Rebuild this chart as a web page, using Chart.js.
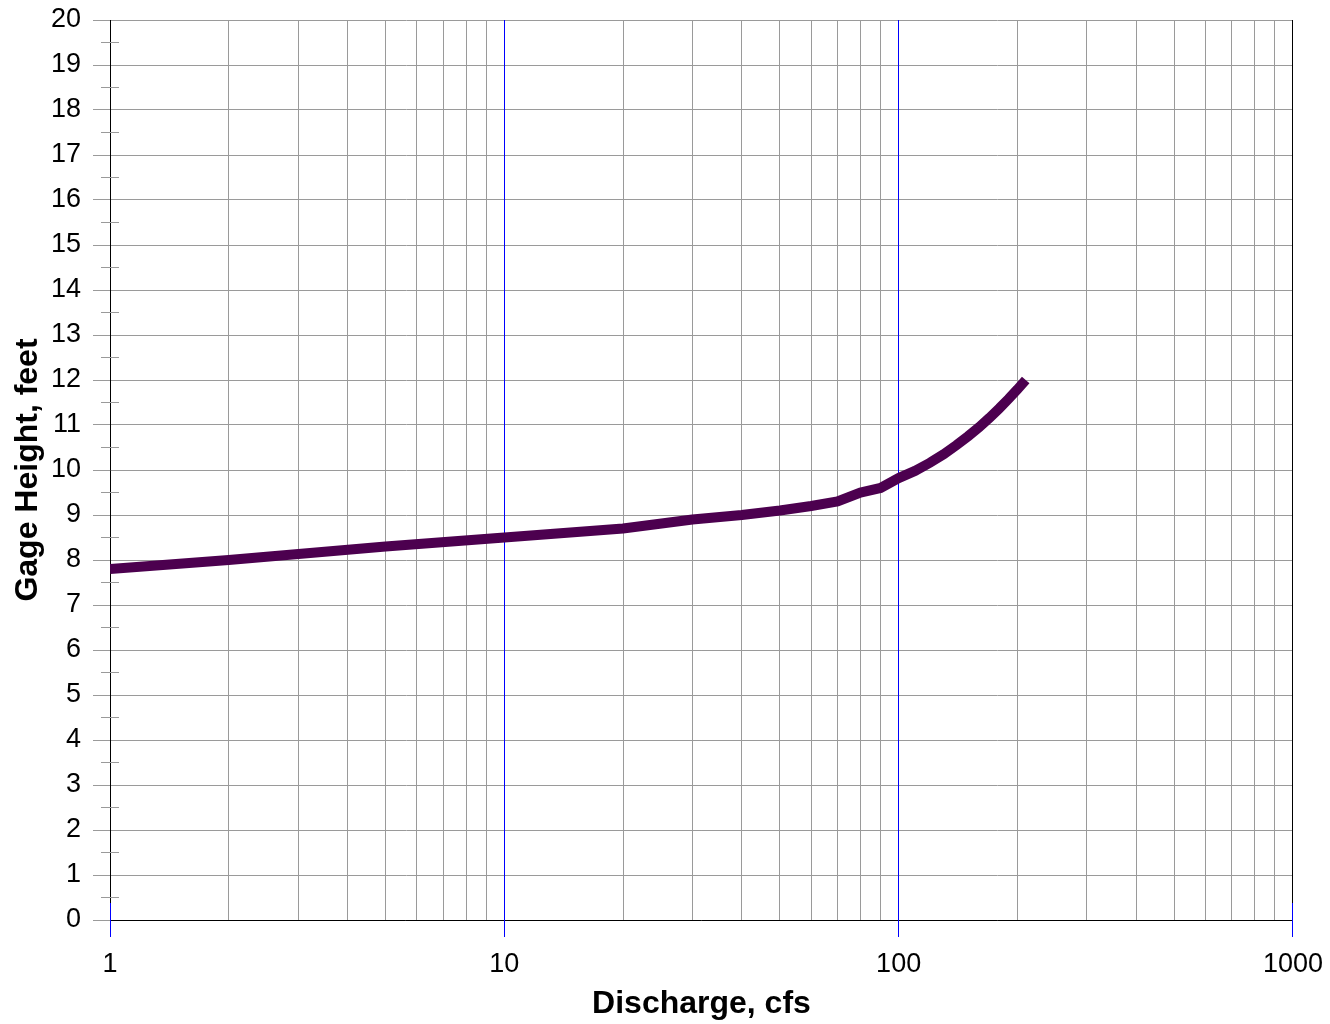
<!DOCTYPE html>
<html>
<head>
<meta charset="utf-8">
<script src="https://cdn.jsdelivr.net/npm/chart.js@4/dist/chart.umd.min.js"></script>
<style>
    html, body { margin: 0; padding: 0; background: #fff; }
    #wrap { width: 1330px; height: 1024px; }
</style>
</head>
<body>
<div id="wrap"><canvas id="ratingChart"></canvas></div>
<script>
// Rating curve - discharge (cfs) vs gage height (feet)
const discharge = [1, 2, 5, 10, 20, 30, 40, 50, 60, 70, 80, 90, 100, 110, 120, 130, 140, 150, 160, 170, 180, 190, 200, 210];
const gageHeight = [7.8, 8.0, 8.3, 8.5, 8.7, 8.9, 9.0, 9.1, 9.2, 9.3, 9.5, 9.6, 9.82, 9.98, 10.16, 10.35, 10.55, 10.75, 10.95, 11.16, 11.37, 11.58, 11.79, 12.0];

const xTickValues = [1, 2, 3, 4, 5, 6, 7, 8, 9,
    10, 20, 30, 40, 50, 60, 70, 80, 90,
    100, 200, 300, 400, 500, 600, 700, 800, 900, 1000];
const xTickLabels = ['1', '10', '100', '1000'];
const decades = [1, 10, 100, 1000];

const gridGray = '#9a9a9a';
const decadeBlue = '#0000ff';

// same pixel snapping Chart.js uses for 1px grid lines
function snap(px) {
    return Math.round(px - 0.5) + 0.5;
}

// decade lines (blue, black at the right edge) and their stubs across the x axis
const decadeLines = {
    id: 'decadeLines',
    beforeDatasetsDraw(chart) {
        const ctx = chart.ctx;
        const x = chart.scales.x;
        const y = chart.scales.y;
        ctx.save();
        ctx.lineWidth = 1;
        decades.forEach(d => {
            const px = snap(x.getPixelForValue(d));
            if (d !== 1) {
                ctx.strokeStyle = d === 1000 ? '#000' : decadeBlue;
                ctx.beginPath();
                ctx.moveTo(px, y.top);
                ctx.lineTo(px, y.bottom);
                ctx.stroke();
            }
            ctx.strokeStyle = decadeBlue;
            ctx.beginPath();
            ctx.moveTo(px, y.bottom - 17);
            ctx.lineTo(px, y.bottom + 17);
            ctx.stroke();
        });
        ctx.restore();
    },
    afterDraw(chart) {
        // half-foot minor ticks across the y axis
        const ctx = chart.ctx;
        const y = chart.scales.y;
        const left = chart.chartArea.left;
        ctx.save();
        ctx.lineWidth = 1;
        ctx.strokeStyle = gridGray;
        for (let v = 0.5; v < 20; v += 1) {
            const py = snap(y.getPixelForValue(v));
            ctx.beginPath();
            ctx.moveTo(left - 9, py);
            ctx.lineTo(left + 9, py);
            ctx.stroke();
        }
        ctx.restore();
    }
};

new Chart(document.getElementById('ratingChart'), {
    type: 'line',
    data: {
        datasets: [{
            data: discharge.map((q, i) => ({ x: q, y: gageHeight[i] })),
            borderColor: '#4c004f',
            borderWidth: 10,
            borderCapStyle: 'butt',
            pointRadius: 0,
            tension: 0,
            fill: false
        }]
    },
    options: {
        responsive: true,
        maintainAspectRatio: false,
        animation: false,
        layout: { padding: { top: 20, right: 37, left: 0, bottom: 0 } },
        plugins: {
            legend: { display: false },
            tooltip: { enabled: false }
        },
        scales: {
            x: {
                type: 'logarithmic',
                min: 1,
                max: 1000,
                afterBuildTicks: scale => {
                    scale.ticks = xTickValues.map(v => ({ value: v }));
                },
                afterFit: scale => { scale.height = 104; },
                ticks: {
                    autoSkip: false,
                    maxRotation: 0,
                    padding: 7,
                    color: '#000',
                    font: { family: 'Arial, "Liberation Sans"', size: 27 },
                    callback: value => {
                        const i = decades.indexOf(value);
                        return i >= 0 ? xTickLabels[i] : '';
                    }
                },
                grid: {
                    color: gridGray,
                    tickColor: 'rgba(0,0,0,0)',
                    tickLength: 21,
                    lineWidth: 1
                },
                border: { display: true, color: '#000', width: 1 },
                title: {
                    display: true,
                    text: 'Discharge, cfs',
                    color: '#000',
                    padding: { top: 0, bottom: 1 },
                    font: { family: 'Arial, "Liberation Sans"', size: 32, weight: 'bold' }
                }
            },
            y: {
                min: 0,
                max: 20,
                afterFit: scale => { scale.width = 110; },
                ticks: {
                    stepSize: 1,
                    padding: 12,
                    color: '#000',
                    font: { family: 'Arial, "Liberation Sans"', size: 27, lineHeight: 0.5 }
                },
                grid: {
                    color: gridGray,
                    tickColor: gridGray,
                    tickLength: 17,
                    lineWidth: 1
                },
                border: { display: true, color: '#000', width: 1 },
                title: {
                    display: true,
                    text: 'Gage Height, feet',
                    color: '#000',
                    padding: { top: 9, bottom: 0 },
                    font: { family: 'Arial, "Liberation Sans"', size: 32, weight: 'bold' }
                }
            }
        }
    },
    plugins: [decadeLines]
});
</script>
</body>
</html>
